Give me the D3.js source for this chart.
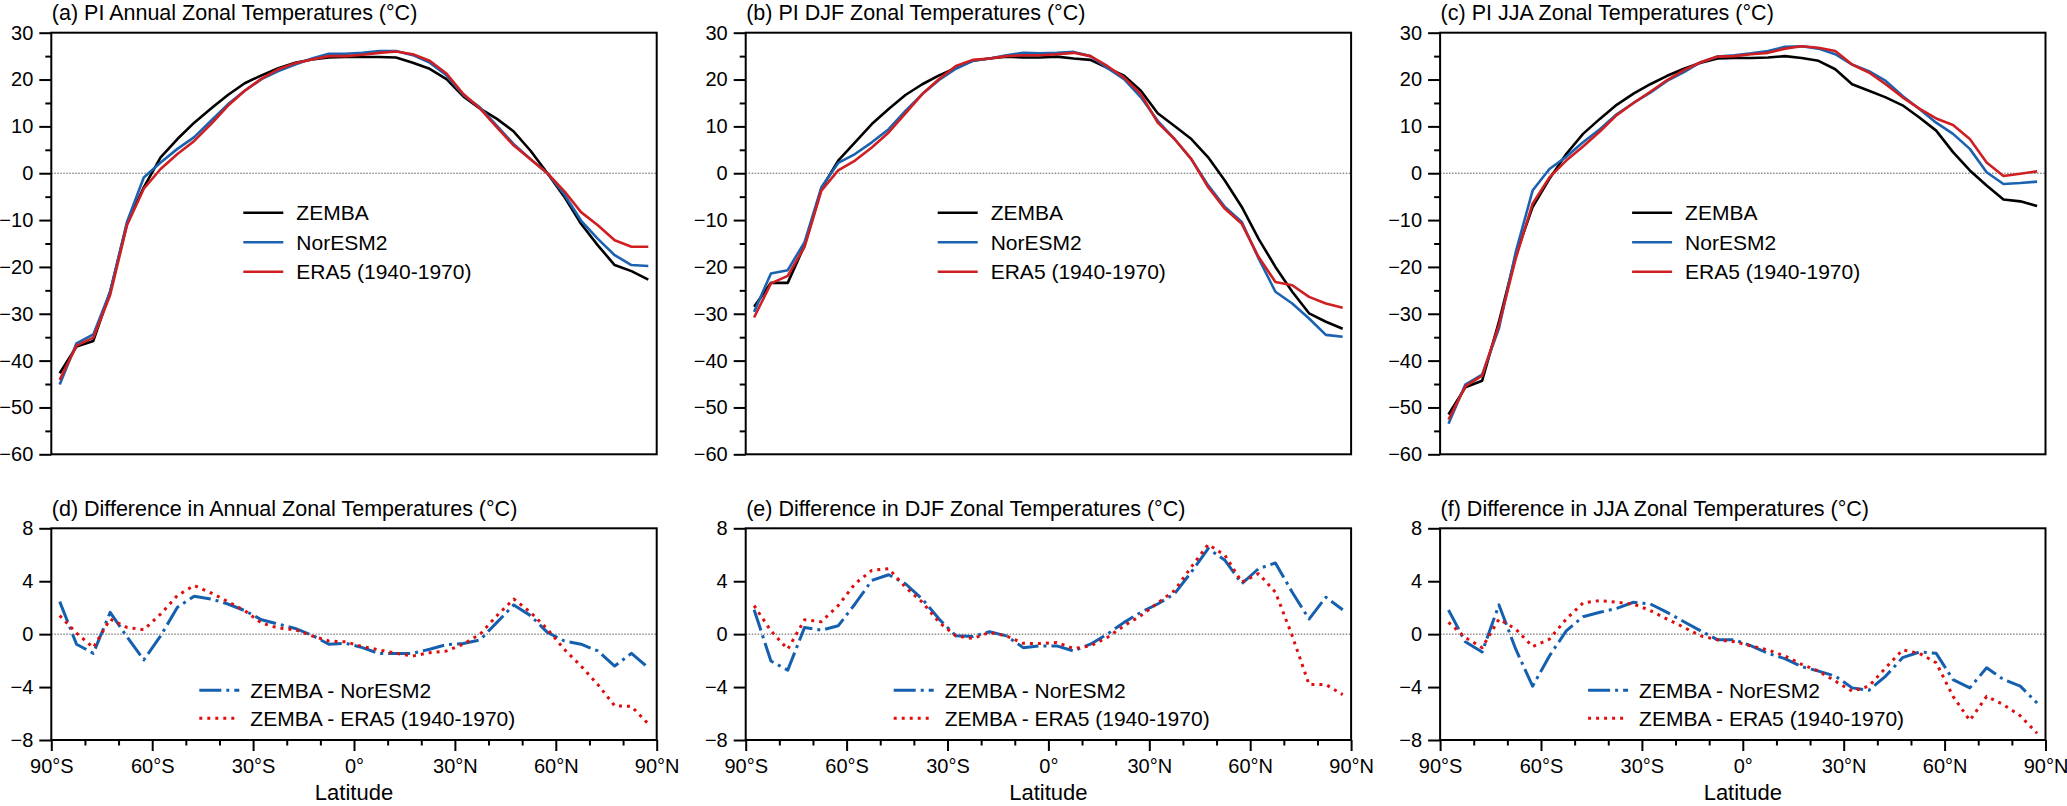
<!DOCTYPE html>
<html>
<head>
<meta charset="utf-8">
<script src="https://cdn.jsdelivr.net/npm/d3@7"></script>
<style>
  body { margin: 0; background: #fff; }
  text { font-family: "Liberation Sans", Arial, Helvetica, sans-serif; fill: #000; }
</style>
</head>
<body>
<svg width="2067" height="806"></svg>
<script>
// latitude band centres (5 degree bins)
const lat = [-87.5, -82.5, -77.5, -72.5, -67.5, -62.5, -57.5, -52.5, -47.5, -42.5, -37.5, -32.5,
  -27.5, -22.5, -17.5, -12.5, -7.5, -2.5, 2.5, 7.5, 12.5, 17.5, 22.5, 27.5,
  32.5, 37.5, 42.5, 47.5, 52.5, 57.5, 62.5, 67.5, 72.5, 77.5, 82.5, 87.5];

// zonal mean temperatures (degC)
const annZemba = [-42.7, -37.0, -35.8, -25.3, -10.8, -3.0, 3.4, 7.3, 10.8, 13.8, 16.7, 19.2, 20.9, 22.4, 23.6, 24.3, 24.7, 24.8, 24.8, 24.8, 24.7, 23.6, 22.3, 20.1, 16.4, 13.8, 11.6, 8.9, 4.8, 0.0, -5.0, -10.8, -15.4, -19.6, -20.9, -22.7];
const annNor = [-45.1, -36.3, -34.4, -25.3, -10.4, -0.9, 2.3, 5.2, 7.7, 11.2, 14.7, 17.6, 20.1, 21.8, 23.2, 24.5, 25.5, 25.5, 25.7, 26.1, 26.1, 25.2, 23.6, 20.9, 16.7, 14.0, 10.1, 6.2, 3.0, 0.0, -4.5, -10.1, -14.0, -17.5, -19.6, -19.8];
const annEra = [-44.1, -36.8, -35.1, -26.0, -11.1, -3.3, 0.9, 4.1, 6.9, 10.5, 14.4, 17.6, 20.2, 22.2, 23.5, 24.3, 25.0, 25.0, 25.3, 25.7, 26.0, 25.4, 24.0, 21.3, 16.9, 13.8, 9.8, 5.9, 3.0, 0.0, -3.8, -8.3, -11.1, -14.3, -15.7, -15.7];

const djfZemba = [-28.5, -23.4, -23.4, -15.4, -3.3, 2.7, 6.6, 10.5, 13.7, 16.7, 19.0, 20.9, 22.5, 24.0, 24.5, 24.9, 24.7, 24.7, 24.9, 24.5, 24.2, 22.5, 20.8, 17.6, 12.8, 10.1, 7.3, 3.4, -1.6, -7.2, -14.0, -20.0, -25.3, -29.9, -31.7, -33.2];
const djfNor = [-29.6, -21.4, -20.7, -14.7, -3.0, 2.2, 4.1, 6.6, 9.4, 13.3, 16.9, 19.9, 22.3, 24.0, 24.5, 25.2, 25.7, 25.6, 25.7, 25.9, 25.0, 22.5, 20.1, 16.2, 11.2, 7.3, 3.0, -2.6, -7.2, -10.4, -18.2, -25.3, -27.8, -31.0, -34.5, -34.9];
const djfEra = [-30.8, -23.5, -21.9, -15.7, -3.7, 0.6, 2.7, 5.5, 8.7, 12.8, 16.9, 20.1, 22.9, 24.2, 24.5, 25.0, 25.2, 25.2, 25.4, 25.7, 25.0, 22.9, 20.4, 16.9, 10.8, 7.3, 3.0, -3.0, -7.6, -10.8, -17.9, -23.2, -23.9, -26.4, -27.8, -28.7];

const jjaZemba = [-51.5, -45.7, -44.3, -31.7, -17.5, -7.2, -1.2, 4.1, 8.4, 11.6, 14.6, 17.0, 19.0, 20.8, 22.3, 23.6, 24.5, 24.6, 24.6, 24.7, 25.0, 24.6, 24.0, 22.2, 19.0, 17.6, 16.2, 14.5, 11.9, 9.1, 4.5, 0.6, -2.6, -5.6, -6.0, -7.0];
const jjaNor = [-53.5, -45.1, -43.0, -33.1, -16.8, -3.7, 0.9, 3.5, 6.6, 9.4, 12.6, 15.0, 17.2, 19.7, 21.6, 23.7, 24.9, 25.2, 25.6, 26.1, 27.0, 27.1, 26.6, 25.4, 23.2, 21.8, 19.7, 16.5, 13.7, 10.8, 8.4, 5.2, 0.2, -2.3, -2.1, -1.8];
const jjaEra = [-52.6, -45.5, -43.2, -32.4, -18.2, -6.5, -0.9, 2.7, 5.7, 8.9, 12.4, 15.0, 17.4, 19.9, 22.0, 23.7, 24.9, 25.0, 25.4, 25.7, 26.6, 27.1, 26.8, 26.1, 23.2, 21.5, 19.0, 16.2, 13.8, 11.7, 10.3, 7.3, 2.3, -0.6, -0.1, 0.4];

// differences (degC)
const annDiffNor = [2.46, -0.76, -1.45, 1.65, -0.2, -1.95, -0.13, 2.03, 2.87, 2.66, 2.28, 1.78, 1.09, 0.76, 0.43, -0.08, -0.76, -0.69, -1.02, -1.47, -1.47, -1.45, -1.14, -0.79, -0.71, -0.43, 0.89, 2.21, 1.40, 0.13, -0.51, -0.76, -1.27, -2.41, -1.45, -2.54];
const annDiffEra = [1.40, 0.08, -1.02, 1.14, 0.51, 0.33, 1.52, 2.92, 3.68, 3.12, 2.46, 1.78, 0.84, 0.46, 0.33, -0.13, -0.51, -0.58, -0.94, -1.19, -1.45, -1.65, -1.40, -1.27, -0.76, 0.0, 1.40, 2.66, 1.65, 0.38, -1.14, -2.41, -3.81, -5.41, -5.46, -6.78];
const djfDiffNor = [1.85, -2.03, -2.72, 0.51, 0.30, 0.63, 2.28, 4.06, 4.49, 3.81, 2.66, 1.14, -0.13, -0.18, 0.18, -0.13, -1.02, -0.89, -0.89, -1.27, -0.76, 0.0, 0.89, 1.65, 2.28, 3.05, 4.70, 6.47, 5.58, 3.81, 4.95, 5.38, 3.17, 1.14, 2.79, 1.85];
const djfDiffEra = [2.16, 0.25, -1.14, 1.09, 0.94, 2.16, 3.81, 4.82, 4.95, 3.55, 2.41, 0.89, -0.13, -0.33, 0.13, -0.13, -0.69, -0.71, -0.63, -1.09, -0.89, -0.25, 0.63, 1.40, 2.36, 3.30, 5.08, 6.78, 5.96, 3.93, 4.57, 3.17, -0.13, -3.81, -3.81, -4.57];
const jjaDiffNor = [1.83, -0.58, -1.35, 2.21, -1.14, -3.93, -1.65, 0.25, 1.32, 1.65, 1.95, 2.41, 2.28, 1.65, 0.94, 0.25, -0.43, -0.43, -0.89, -1.45, -1.85, -2.46, -2.79, -3.17, -4.06, -4.24, -3.17, -1.78, -1.35, -1.45, -3.43, -4.06, -2.54, -3.43, -3.93, -5.20];
const jjaDiffEra = [0.89, -0.25, -1.02, 1.14, 0.38, -0.94, -0.38, 1.14, 2.36, 2.54, 2.41, 2.28, 1.78, 1.14, 0.51, -0.13, -0.43, -0.58, -0.89, -1.19, -1.65, -2.28, -2.79, -3.55, -4.31, -3.93, -2.54, -1.19, -1.45, -2.16, -4.70, -6.52, -4.70, -5.33, -6.17, -7.49];

const topTitles = ["(a) PI Annual Zonal Temperatures (°C)", "(b) PI DJF Zonal Temperatures (°C)", "(c) PI JJA Zonal Temperatures (°C)"];
const botTitles = ["(d) Difference in Annual Zonal Temperatures (°C)", "(e) Difference in DJF Zonal Temperatures (°C)", "(f) Difference in JJA Zonal Temperatures (°C)"];
const topNames = ["ZEMBA", "NorESM2", "ERA5 (1940-1970)"];
const botNames = ["ZEMBA - NorESM2", "ZEMBA - ERA5 (1940-1970)"];
const latTicks = [-90, -60, -30, 0, 30, 60, 90];
const latTickLabels = ["90°S", "60°S", "30°S", "0°", "30°N", "60°N", "90°N"];
const latMinor = [-80, -70, -50, -40, -20, -10, 10, 20, 40, 50, 70, 80];
const topYTicks = [-60, -50, -40, -30, -20, -10, 0, 10, 20, 30];
const topYMinor = [-55, -45, -35, -25, -15, -5, 5, 15, 25];
const botYTicks = [-8, -4, 0, 4, 8];

const svg = d3.select("svg");
const panelX = [51.3, 745.7, 1440.1];
const panelW = 605.4;
const minus = (d) => d < 0 ? "\u2212" + Math.abs(d) : String(d);

const topStyles = [
  { color: "#000000", width: 2.6, dash: null },
  { color: "#1b62b0", width: 2.6, dash: null },
  { color: "#d01f22", width: 2.6, dash: null }
];
const botStyles = [
  { color: "#1560ae", width: 3, dash: "22,5,3,5" },
  { color: "#e00d0d", width: 3, dash: "3,5" }
];

function drawPanel(cfg) {
  const g = svg.append("g").attr("transform", `translate(${cfg.x},${cfg.y})`);
  const x = d3.scaleLinear().domain([-90, 90]).range([0, panelW]);
  const y = d3.scaleLinear().domain(cfg.yDomain).range([cfg.h, 0]);

  // dotted zero line
  g.append("line")
    .attr("x1", 0).attr("x2", panelW)
    .attr("y1", y(0)).attr("y2", y(0))
    .attr("stroke", "#555").attr("stroke-width", 1)
    .attr("stroke-dasharray", "1.5,1.5");

  const line = d3.line()
    .x((d, i) => x(lat[i]))
    .y((d) => y(d));

  cfg.series.forEach((s, i) => {
    const st = cfg.styles[i];
    g.append("path")
      .attr("d", line(s))
      .attr("fill", "none")
      .attr("stroke", st.color)
      .attr("stroke-width", st.width)
      .attr("stroke-linejoin", "round")
      .attr("stroke-dasharray", st.dash);
  });

  // y axis
  g.append("g")
    .call(d3.axisLeft(y).tickValues(cfg.yTicks).tickSize(12).tickPadding(6).tickFormat(minus));
  if (cfg.yMinor) {
    g.append("g")
      .call(d3.axisLeft(y).tickValues(cfg.yMinor).tickSize(6).tickFormat(""));
  }

  // x axis (bottom row only)
  if (cfg.xAxis) {
    g.append("g")
      .attr("transform", `translate(0,${cfg.h})`)
      .call(d3.axisBottom(x).tickValues(latTicks).tickSize(11).tickPadding(8)
        .tickFormat((d, i) => latTickLabels[i]));
    g.append("g")
      .attr("transform", `translate(0,${cfg.h})`)
      .call(d3.axisBottom(x).tickValues(latMinor).tickSize(5.5).tickFormat(""));
    g.append("text")
      .attr("x", panelW / 2).attr("y", cfg.h + 60)
      .attr("text-anchor", "middle")
      .attr("font-size", 22)
      .text("Latitude");
  }

  g.selectAll(".domain").remove();
  g.selectAll(".tick line").attr("stroke", "#000").attr("stroke-width", 2);
  g.selectAll(".tick text").attr("font-size", 20).attr("fill", "#000")
    .style("font-family", '"Liberation Sans", Arial, Helvetica, sans-serif');

  // frame
  g.append("rect")
    .attr("width", panelW).attr("height", cfg.h)
    .attr("fill", "none").attr("stroke", "#000").attr("stroke-width", 2);

  // title
  g.append("text")
    .attr("x", 0.5).attr("y", cfg.titleY)
    .attr("font-size", 21.5)
    .text(cfg.title);

  // legend
  cfg.names.forEach((name, i) => {
    const st = cfg.styles[i];
    const ly = cfg.legend.y[i];
    g.append("line")
      .attr("x1", cfg.legend.x0).attr("x2", cfg.legend.x1)
      .attr("y1", ly).attr("y2", ly)
      .attr("stroke", st.color)
      .attr("stroke-width", st.width)
      .attr("stroke-dasharray", st.dash);
    g.append("text")
      .attr("x", cfg.legend.tx).attr("y", ly)
      .attr("dy", "0.36em")
      .attr("font-size", 21)
      .text(name);
  });
}

const topSeries = [[annZemba, annNor, annEra], [djfZemba, djfNor, djfEra], [jjaZemba, jjaNor, jjaEra]];
const botSeries = [[annDiffNor, annDiffEra], [djfDiffNor, djfDiffEra], [jjaDiffNor, jjaDiffEra]];

panelX.forEach((px, k) => {
  drawPanel({
    x: px, y: 32.7, h: 421.6,
    yDomain: [-60, 30], yTicks: topYTicks, yMinor: topYMinor,
    series: topSeries[k], styles: topStyles, names: topNames,
    title: topTitles[k], titleY: -12.5,
    legend: { x0: 192, x1: 232, tx: 245, y: [180, 209.5, 239] },
    xAxis: false
  });
  drawPanel({
    x: px, y: 528.3, h: 211.7,
    yDomain: [-8, 8], yTicks: botYTicks, yMinor: null,
    series: botSeries[k], styles: botStyles, names: botNames,
    title: botTitles[k], titleY: -12.5,
    legend: { x0: 148, x1: 188, tx: 199, y: [162, 190] },
    xAxis: true
  });
});
</script>
</body>
</html>
